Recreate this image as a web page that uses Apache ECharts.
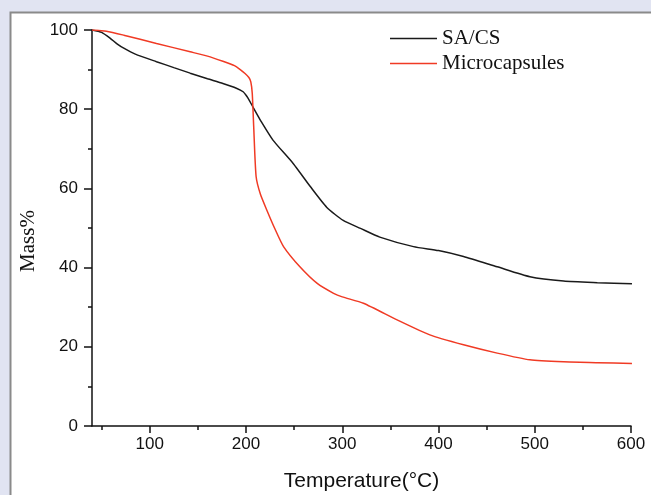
<!DOCTYPE html>
<html>
<head>
<meta charset="utf-8">
<title>TGA curves</title>
<script src="https://cdn.jsdelivr.net/npm/echarts@6/dist/echarts.min.js"></script>
<style>
  html, body { margin: 0; padding: 0; background: #E1E4F2; }
  #chart { width: 651px; height: 495px; }
</style>
</head>
<body>
<div id="chart"></div>
<script>
// Thermogravimetric curves: residual mass (%) versus temperature (°C)
const sacsTemp = [40, 50, 59, 66, 73, 85, 107, 125, 142, 160, 176, 190, 197, 201, 204, 208, 215, 228, 249, 267, 284, 301, 319, 339, 374, 400, 426, 461, 495, 530, 565, 601];
const sacsMass = [100, 99.4, 97.9, 96.5, 95.4, 93.9, 92.0, 90.5, 89.1, 87.7, 86.5, 85.3, 84.4, 83.2, 82.0, 80.2, 77.2, 72.2, 66.3, 60.4, 55.2, 51.9, 49.9, 47.7, 45.3, 44.3, 42.8, 40.2, 37.7, 36.6, 36.2, 35.9];

const microTemp = [40, 55, 73, 107, 142, 160, 176, 188, 194, 199, 203, 205, 206.5, 208, 210.5, 215, 222, 230, 239, 256, 274, 291, 300, 322, 357, 391, 426, 461, 495, 530, 565, 601];
const microMass = [100, 99.7, 98.7, 96.6, 94.5, 93.4, 92.1, 91.0, 90.0, 89.0, 88.0, 86.9, 84.0, 75.6, 63.0, 58.5, 54.3, 49.8, 45.3, 40.2, 36.0, 33.5, 32.6, 31.0, 26.8, 23.0, 20.5, 18.4, 16.7, 16.2, 16.0, 15.8];

const xMajorTicks = [100, 200, 300, 400, 500, 600];
const xMinorTicks = [50, 150, 250, 350, 450, 550];

const seriesNames = ['SA/CS', 'Microcapsules'];

function pairs(xs, ys) {
  return xs.map((x, i) => [x, ys[i]]);
}

const chart = echarts.init(document.getElementById('chart'), null, { renderer: 'canvas' });

const axisColor = '#111';

chart.setOption({
  backgroundColor: '#E1E4F2',
  animation: false,
  graphic: [{
    type: 'rect',
    z: -10,
    shape: { x: 10.5, y: 12.5, width: 700, height: 600 },
    style: { fill: '#ffffff', stroke: '#8a8a8a', lineWidth: 2 }
  }],
  grid: { left: 92, right: 20, top: 30, bottom: 69, containLabel: false, outerBoundsMode: 'none' },
  legend: {
    orient: 'vertical',
    left: 385,
    top: 23,
    itemWidth: 47,
    itemHeight: 1.5,
    itemGap: 4,
    icon: 'rect',
    data: seriesNames,
    textStyle: {
      fontFamily: 'Liberation Serif, Times New Roman, serif',
      fontSize: 21,
      lineHeight: 21,
      color: '#111'
    }
  },
  xAxis: [{
    type: 'value',
    min: 40,
    max: 600,
    name: 'Temperature(°C)',
    nameLocation: 'middle',
    nameGap: 45,
    nameTextStyle: {
      fontFamily: 'Liberation Sans, Arial, sans-serif',
      fontSize: 21,
      color: '#111'
    },
    splitLine: { show: false },
    axisLine: { show: true, onZero: false, lineStyle: { color: axisColor, width: 1.5 } },
    axisTick: { show: true, inside: false, length: 7, customValues: xMajorTicks, lineStyle: { color: axisColor, width: 1.5 } },
    axisLabel: {
      customValues: xMajorTicks,
      margin: 10,
      fontFamily: 'Liberation Sans, Arial, sans-serif',
      fontSize: 17,
      color: '#111'
    }
  }, {
    type: 'value',
    position: 'bottom',
    min: 40,
    max: 600,
    splitLine: { show: false },
    axisLine: { show: false },
    axisTick: { show: true, inside: false, length: 4, customValues: xMinorTicks, lineStyle: { color: axisColor, width: 1.5 } },
    axisLabel: { show: false }
  }],
  yAxis: {
    type: 'value',
    min: 0,
    max: 100,
    interval: 20,
    name: 'Mass%',
    nameLocation: 'middle',
    nameGap: 51,
    nameRotate: 90,
    nameTextStyle: {
      fontFamily: 'Liberation Serif, Times New Roman, serif',
      fontSize: 21,
      color: '#111',
      padding: [0, 26, 0, 0]
    },
    splitLine: { show: false },
    axisLine: { show: true, onZero: false, lineStyle: { color: axisColor, width: 1.5 } },
    axisTick: { show: true, inside: false, length: 8, lineStyle: { color: axisColor, width: 1.5 } },
    minorTick: { show: true, splitNumber: 2, length: 4, lineStyle: { color: axisColor, width: 1.5 } },
    minorSplitLine: { show: false },
    axisLabel: {
      margin: 14,
      fontFamily: 'Liberation Sans, Arial, sans-serif',
      fontSize: 17,
      color: '#111'
    }
  },
  series: [{
    name: seriesNames[0],
    type: 'line',
    xAxisIndex: 0,
    data: pairs(sacsTemp, sacsMass),
    showSymbol: false,
    symbol: 'none',
    smooth: 0.2,
    itemStyle: { color: '#1a1a1a' },
    lineStyle: { color: '#1a1a1a', width: 1.5 }
  }, {
    name: seriesNames[1],
    type: 'line',
    xAxisIndex: 0,
    data: pairs(microTemp, microMass),
    showSymbol: false,
    symbol: 'none',
    smooth: 0.2,
    itemStyle: { color: '#F03A24' },
    lineStyle: { color: '#F03A24', width: 1.5 }
  }]
});
</script>
</body>
</html>
